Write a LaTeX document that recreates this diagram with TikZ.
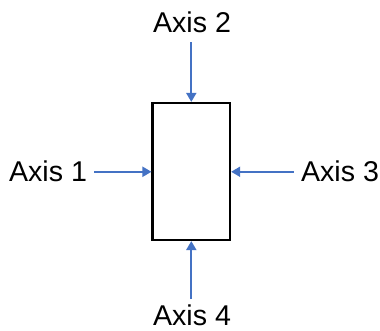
\documentclass[tikz,border=0pt]{standalone}
\usepackage{fontspec}
\setmainfont{Liberation Sans}
\usetikzlibrary{arrows.meta}
\definecolor{axblue}{HTML}{4472C4}
\begin{document}
\begin{tikzpicture}[x=1pt,y=1pt,
  lbl/.style={inner sep=0pt,font=\fontsize{28.6}{30}\selectfont},
  ax/.style={draw=axblue,line width=2pt,-{Triangle[length=9pt,width=10pt]}}]
\useasboundingbox (0,0) rectangle (380,331);
\node[draw=black,line width=2.2pt,minimum width=77.5pt,minimum height=137pt,inner sep=0pt] (box) at (191.3,159.5) {};
\node[lbl,anchor=base] (a2) at (192,298) {Axis 2};
\node[lbl,anchor=base] (a4) at (192,5) {Axis 4};
\node[lbl,anchor=base] (a1) at (48,149) {Axis 1};
\node[lbl,anchor=base] (a3) at (340,149) {Axis 3};
\draw[ax,shorten <=9pt] (a2.south -| box.north) -- (box.north);
\draw[ax,shorten <=6pt] (a4.north -| box.south) -- (box.south);
\draw[ax,shorten <=7pt] (a1.east) -- (a1.east -| box.west);
\draw[ax,shorten <=7pt] (a3.west) -- (a3.west -| box.east);
\end{tikzpicture}
\end{document}
